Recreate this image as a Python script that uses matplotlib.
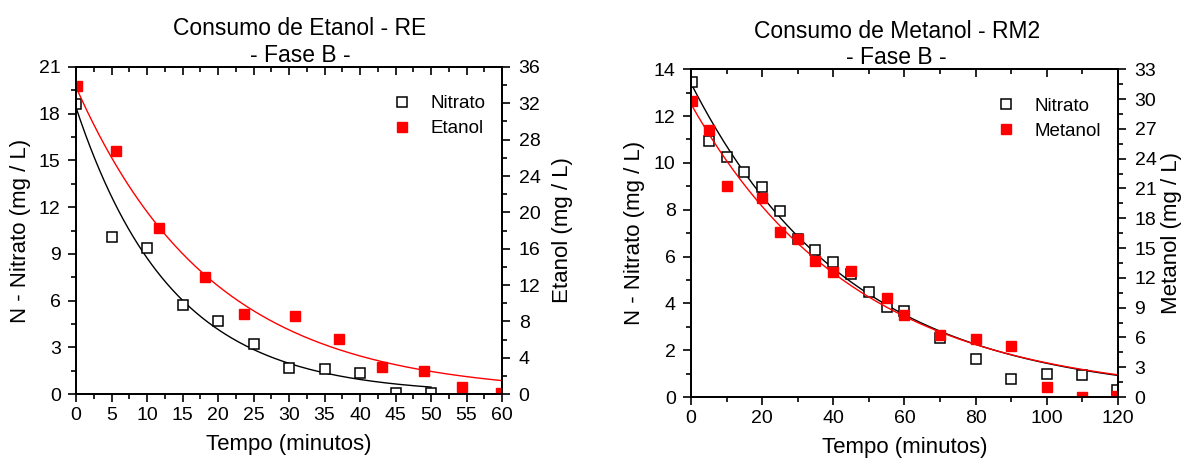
import numpy as np
import matplotlib
matplotlib.use("Agg")
import matplotlib.pyplot as plt
from matplotlib.ticker import MultipleLocator, NullFormatter

plt.rcParams['font.family'] = ['Liberation Sans', 'DejaVu Sans']
plt.rcParams['font.size'] = 14

# --- Panel 1: Etanol (RE) ---
t_nit_re = [0, 5, 10, 15, 20, 25, 30, 35, 40, 45, 50]
nit_re = [18.6, 10.1, 9.35, 5.7, 4.7, 3.2, 1.65, 1.6, 1.35, 0.05, 0.05]
t_eta = [0.2, 5.7, 11.7, 18.2, 23.7, 30.8, 37.1, 43.1, 49.0, 54.4, 59.9]
eta = [33.9, 26.8, 18.3, 12.9, 8.8, 8.6, 6.1, 3.0, 2.5, 0.8, 0.1]
# exponential fit parameters (A, k)
fit_nit_re = (18.4, 0.0745)
fit_eta = (33.8, 0.0522)

# --- Panel 2: Metanol (RM2) ---
t_nit_rm = [0.4, 5, 10, 15, 20, 25, 30, 35, 40, 45, 50, 55, 60, 70, 80, 90, 100, 110, 119.6]
nit_rm = [13.45, 10.95, 10.25, 9.62, 8.95, 7.95, 6.77, 6.3, 5.77, 5.25, 4.47, 3.86, 3.68,
          2.54, 1.63, 0.79, 0.97, 0.93, 0.29]
t_met = [0.4, 5, 10, 20, 25, 30, 35, 40, 45, 55, 60, 70, 80, 90, 100, 110, 119.6]
met = [29.8, 26.9, 21.2, 20.0, 16.6, 15.9, 13.7, 12.6, 12.7, 10.0, 8.3, 6.2, 5.8, 5.1,
       1.0, 0.0, 0.1]
fit_nit_rm = (13.4, 0.0223)
fit_met = (29.5, 0.0215)


def draw_panel(rect, title, title_x, t1, y1, fit1, t2, y2, fit2, fit_end1, xmax,
               xmaj, ylim1, ymaj1, ylim2, ymaj2, label2, pad2=8):
    ax = fig.add_axes(rect)
    ax2 = ax.twinx()

    tt1 = np.linspace(0, fit_end1, 300)
    tt2 = np.linspace(0, xmax, 300)
    ax.plot(tt1, fit1[0] * np.exp(-fit1[1] * tt1), color='black', lw=1.0)
    h1, = ax.plot(t1, y1, 's', mfc='white', mec='black', mew=1.1, ms=7.5,
                  label='Nitrato')
    ax2.plot(tt2, fit2[0] * np.exp(-fit2[1] * tt2), color='red', lw=1.0)
    h2, = ax2.plot(t2, y2, 's', color='red', mec='red', ms=7.5, label=label2)

    ax.set_xlim(0, xmax)
    ax.set_ylim(*ylim1)
    ax2.set_ylim(*ylim2)
    ax.xaxis.set_major_locator(MultipleLocator(xmaj))
    ax.xaxis.set_minor_locator(MultipleLocator(xmaj / 2))
    ax.yaxis.set_major_locator(MultipleLocator(ymaj1))
    ax.yaxis.set_minor_locator(MultipleLocator(ymaj1 / 2))
    ax2.yaxis.set_major_locator(MultipleLocator(ymaj2))
    ax2.yaxis.set_minor_locator(MultipleLocator(ymaj2 / 2))

    for a in (ax, ax2):
        a.tick_params(which='both', direction='out', width=1.2)
        a.tick_params(which='major', length=6)
        a.tick_params(which='minor', length=3.5)
    ax.tick_params(axis='y', pad=5)
    ax2.tick_params(axis='y', pad=6)

    # top ticks pointing inward
    top = ax.secondary_xaxis('top')
    top.xaxis.set_major_locator(MultipleLocator(xmaj))
    top.xaxis.set_minor_locator(MultipleLocator(xmaj / 2))
    top.xaxis.set_major_formatter(NullFormatter())
    top.tick_params(which='both', direction='in', width=1.2)
    top.tick_params(which='major', length=6)
    top.tick_params(which='minor', length=3.5)
    top.spines['top'].set_linewidth(1.3)

    for sp in list(ax.spines.values()) + list(ax2.spines.values()):
        sp.set_linewidth(1.3)

    ax.set_xlabel('Tempo (minutos)', fontsize=16, labelpad=7)
    ax.set_ylabel('N - Nitrato (mg / L)', fontsize=16, labelpad=6)
    ax2.set_ylabel(label2 + ' (mg / L)', fontsize=16, labelpad=pad2)
    ax.set_title(title + '\n- Fase B -', x=title_x, fontsize=16.5, linespacing=1.2, pad=1)

    ax2.legend([h1, h2], ['Nitrato', label2], loc='upper right', frameon=False,
               bbox_to_anchor=(1.0, 0.965), handlelength=1.0, handletextpad=1.0,
               labelspacing=0.42, fontsize=13.5)
    return ax, ax2


fig = plt.figure(figsize=(11.86, 4.63), dpi=100)

draw_panel([0.0641, 0.149, 0.3592, 0.7063], 'Consumo de Etanol - RE', 0.526,
           t_nit_re, nit_re, fit_nit_re, t_eta, eta, fit_eta, 50, 60,
           5, (0, 21), 3, (0, 36), 4, 'Etanol')
draw_panel([0.5826, 0.1425, 0.360, 0.708], 'Consumo de Metanol - RM2', 0.482,
           t_nit_rm, nit_rm, fit_nit_rm, t_met, met, fit_met, 120, 120,
           20, (0, 14), 2, (0, 33), 3, 'Metanol', pad2=3)

fig.savefig('out.png', dpi=100)
